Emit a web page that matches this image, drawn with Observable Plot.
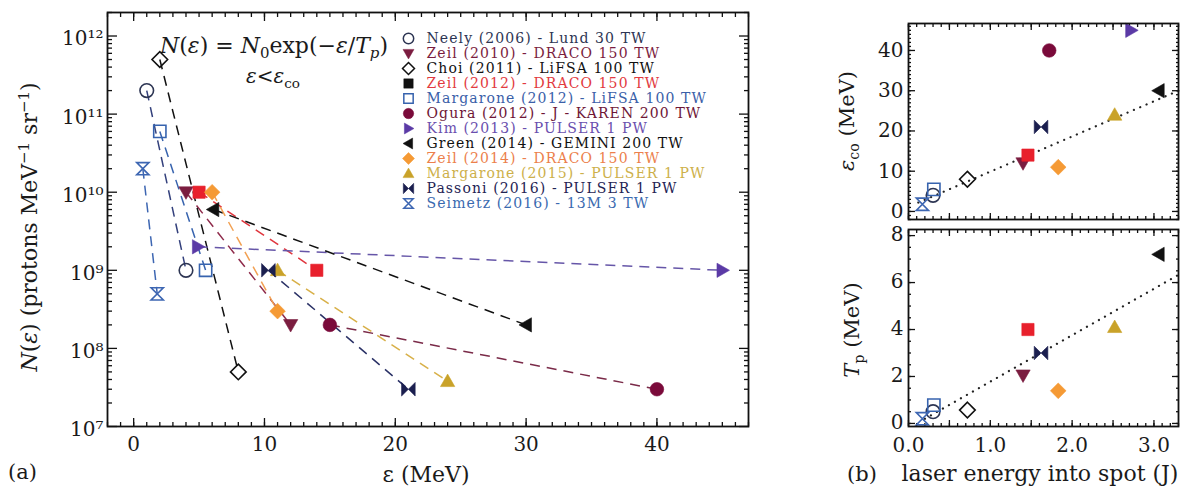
<!DOCTYPE html>
<html>
<head>
<meta charset="utf-8">
<script src="https://cdn.jsdelivr.net/npm/d3@7"></script>
<script src="https://cdn.jsdelivr.net/npm/@observablehq/plot@0.6"></script>
<style>
  body { margin: 0; background: #fff; }
  #fig { position: relative; width: 1180px; height: 488px; overflow: hidden;
         font-family: "DejaVu Serif", serif; color: #1a1a1a; background: #fff; }
  #fig svg { position: absolute; overflow: visible; }
  .t { position: absolute; white-space: nowrap; line-height: 1; }
  .t sub, .t sup { font-size: 0.68em; line-height: 0; }
</style>
</head>
<body>
<div id="fig"></div>
<script>
// ---- data -------------------------------------------------------------
const studies = [
  "Neely (2006) - Lund 30 TW",
  "Zeil (2010) - DRACO 150 TW",
  "Choi (2011) - LiFSA 100 TW",
  "Zeil (2012) - DRACO 150 TW",
  "Margarone (2012) - LiFSA 100 TW",
  "Ogura (2012) - J - KAREN 200 TW",
  "Kim (2013) - PULSER 1 PW",
  "Green (2014) - GEMINI 200 TW",
  "Zeil (2014) - DRACO 150 TW",
  "Margarone (2015) - PULSER 1 PW",
  "Passoni (2016) - PULSER 1 PW",
  "Seimetz (2016) - 13M 3 TW"
];
// first point of each exponential spectrum (MeV, protons MeV^-1 sr^-1)
const epsStart = [1, 4, 2, 5, 2, 15, 4.9, 6.1, 6, 11, 10.3, 0.7];
const nStart   = [2e11, 1e10, 5e11, 1e10, 6e10, 2e8, 2e9, 6e9, 1e10, 1e9, 1e9, 2e10];
// cut-off energy eps_co and the spectrum value there
const epsCutoff = [4, 12, 8, 14, 5.5, 40, 45, 30, 11, 24, 21, 1.8];
const nCutoff   = [1e9, 2e8, 5e7, 1e9, 1e9, 3e7, 1e9, 2e8, 3e8, 3.8e7, 3e7, 5e8];
// laser energy into the focal spot (J) and proton temperature T_p (MeV)
const laserEnergy = [0.3, 1.4, 0.72, 1.46, 0.31, 1.72, 2.72, 3.06, 1.83, 2.52, 1.62, 0.17];
const tempP       = [0.5, 2.05, 0.57, 4.0, 0.78, null, null, 7.2, 1.39, 4.1, 3.0, 0.2];
// linear trends drawn as dotted lines in panel (b)
const trendEnergy = [0.12, 3.3];
const trendCutoff = [2.2, 30];
const trendTempEnergy = [0.2, 3.3];
const trendTemp = [0.2, 6.33];
// axis ticks
const xTicksA = [0, 10, 20, 30, 40];
const yDecadesA = [7, 8, 9, 10, 11, 12];
const xTicksB = [0, 1, 2, 3];
const yTicksCutoff = [0, 10, 20, 30, 40];
const yTicksTemp = [0, 2, 4, 6, 8];

// ---- marker styles ----------------------------------------------------
const shapes  = ["circle","triDown","diamond","square","square","circle","triRight","triLeft","diamond","triUp","bowtie","hourglass"];
const filled  = [false, true, false, true, false, true, true, true, true, true, true, false];
const markCol = ["#2d3553","#7b1d40","#111111","#e8202c","#3763ae","#7a0a3a","#5b3aa6","#111111","#f59a35","#c9a229","#1b1f4f","#3d66b2"];
const lineCol = ["#33407c","#8e2a4a","#111111","#e0353d","#3763ae","#7a2a48","#6656a8","#111111","#f2a052","#d8b048","#2a3166","#3d66b2"];
const textCol = ["#2d3553","#7b1d40","#111111","#e23a40","#3a60a8","#6e1636","#6a4fae","#111111","#ec7f4c","#cdb04a","#1f2454","#3a6ab0"];
const legendCol = markCol.map((c, i) => i === 3 ? "#111111" : c);

const half = s => Math.sqrt(s / Math.PI);
const SYM = {
  circle: d3.symbolCircle,
  square: { draw(c, s) { const r = half(s) * 0.9; c.rect(-r, -r, 2 * r, 2 * r); } },
  diamond: { draw(c, s) { const r = half(s) * 1.15; c.moveTo(0, -r); c.lineTo(r, 0); c.lineTo(0, r); c.lineTo(-r, 0); c.closePath(); } },
  triDown: { draw(c, s) { const r = half(s) * 1.05; c.moveTo(-r, -0.75 * r); c.lineTo(r, -0.75 * r); c.lineTo(0, r); c.closePath(); } },
  triUp: { draw(c, s) { const r = half(s) * 1.05; c.moveTo(-r, 0.75 * r); c.lineTo(r, 0.75 * r); c.lineTo(0, -r); c.closePath(); } },
  triRight: { draw(c, s) { const r = half(s) * 1.05; c.moveTo(-0.75 * r, -r); c.lineTo(-0.75 * r, r); c.lineTo(r, 0); c.closePath(); } },
  triLeft: { draw(c, s) { const r = half(s) * 1.05; c.moveTo(0.75 * r, -r); c.lineTo(0.75 * r, r); c.lineTo(-r, 0); c.closePath(); } },
  bowtie: { draw(c, s) { const r = half(s); c.moveTo(-r, -r); c.lineTo(0, 0); c.lineTo(-r, r); c.closePath(); c.moveTo(r, -r); c.lineTo(0, 0); c.lineTo(r, r); c.closePath(); } },
  hourglass: { draw(c, s) { const r = half(s) * 0.9; c.moveTo(-r, -r); c.lineTo(r, -r); c.lineTo(-r, r); c.lineTo(r, r); c.closePath(); } }
};

const rows = studies.map((name, i) => ({
  name, i,
  e0: epsStart[i], n0: nStart[i], eco: epsCutoff[i], nco: nCutoff[i],
  E: laserEnergy[i], tp: tempP[i]
}));

function markerFor(i, data, x, y, r) {
  return Plot.dot(data, {
    x, y, r,
    symbol: SYM[shapes[i]],
    fill: filled[i] ? markCol[i] : "none",
    stroke: markCol[i],
    strokeWidth: filled[i] ? 0.6 : 1.6
  });
}

// inward frame ticks on the given sides (unlabelled)
function frameTicks(axis, values, size, anchors) {
  const f = axis === "x" ? Plot.axisX : Plot.axisY;
  return anchors.map(anchor => f(values, {
    anchor, tickSize: -size, tickFormat: () => "", label: null, strokeWidth: 1.3, stroke: "#111"
  }));
}

const sup = n => String(n).split("").map(c => "⁰¹²³⁴⁵⁶⁷⁸⁹"["0123456789".indexOf(c)]).join("");
const FONT = "DejaVu Serif";
const fig = document.getElementById("fig");
function place(node, left, top) { node.style.left = left + "px"; node.style.top = top + "px"; fig.appendChild(node); }
function label(html, x, y, size, opts = {}) {
  const el = document.createElement("div");
  el.className = "t";
  el.innerHTML = html;
  const tx = opts.anchor === "start" ? "0" : "-50%";
  el.style.cssText += `left:${x}px;top:${y}px;font-size:${size}px;transform:translate(${tx},-50%)${opts.rotate ? " rotate(-90deg)" : ""};`;
  if (opts.color) el.style.color = opts.color;
  fig.appendChild(el);
}

// ---- panel (a): spectra ----------------------------------------------
const logMinor = yDecadesA.flatMap(p => d3.range(2, 10).map(k => k * 10 ** p)).filter(v => v <= 2e12);
const logMajor = yDecadesA.map(p => 10 ** p);

const panelA = Plot.plot({
  width: 760, height: 488,
  marginLeft: 107, marginRight: 12, marginTop: 12, marginBottom: 62,
  style: { fontFamily: FONT, fontSize: "20px", background: "transparent", color: "#1a1a1a" },
  x: { domain: [-2, 47] },
  y: { type: "log", domain: [1e7, 2e12] },
  marks: [
    ...frameTicks("x", d3.range(-2, 48), 4, ["bottom", "top"]),
    ...frameTicks("x", xTicksA, 8, ["bottom", "top"]),
    ...frameTicks("y", logMinor, 5, ["left", "right"]),
    ...frameTicks("y", logMajor, 10, ["left", "right"]),
    Plot.axisX(xTicksA, { anchor: "bottom", tickSize: 0, tickPadding: 10, label: null }),
    Plot.axisY(logMajor, { anchor: "left", tickSize: 0, tickPadding: 4, label: null, dy: 3,
      tickFormat: d => "10" + sup(Math.round(Math.log10(d))) }),
    Plot.link(rows, {
      x1: "e0", y1: "n0", x2: "eco", y2: "nco",
      stroke: d => lineCol[d.i], strokeWidth: 1.5, strokeDasharray: "10,7"
    }),
    ...rows.map(d => markerFor(d.i, [{ x: d.e0, y: d.n0 }, { x: d.eco, y: d.nco }], "x", "y", 6.8)),
    Plot.frame({ stroke: "#111", strokeWidth: 1.8 })
  ]
});
place(panelA, 0, 0);

// legend inside panel (a)
const legend = Plot.plot({
  width: 350, height: 220, margin: 0,
  style: { fontFamily: FONT, fontSize: "14px", letterSpacing: "1.1px", background: "transparent" },
  x: { domain: [0, 1], range: [23, 300], axis: null },
  y: { type: "point", domain: studies, range: [15, 206.5], axis: null },
  marks: [
    ...rows.map(d => Plot.dot([d], {
      x: () => 0, y: "name", r: 5.2,
      symbol: SYM[shapes[d.i]],
      fill: filled[d.i] ? legendCol[d.i] : "none",
      stroke: legendCol[d.i], strokeWidth: filled[d.i] ? 0.5 : 1.5
    })),
    Plot.text(rows, { x: () => 0, y: "name", text: "name", dx: 18, textAnchor: "start",
      fill: d => textCol[d.i] })
  ]
});
place(legend, 385, 10);

// ---- panel (b): cut-off energy and temperature vs laser energy --------
const topB = Plot.plot({
  width: 400, height: 230,
  marginLeft: 128, marginRight: 2, marginTop: 23, marginBottom: 11,
  style: { fontFamily: FONT, fontSize: "20px", background: "transparent", color: "#1a1a1a" },
  x: { domain: [0, 3.3] },
  y: { domain: [-2, 46.7] },
  marks: [
    ...frameTicks("x", d3.range(0, 3.31, 0.1), 3, ["bottom", "top"]),
    ...frameTicks("x", d3.range(0, 3.31, 0.5), 6, ["bottom", "top"]),
    ...frameTicks("y", d3.range(-2, 47, 1), 3, ["left", "right"]),
    ...frameTicks("y", yTicksCutoff, 7, ["left", "right"]),
    Plot.axisY(yTicksCutoff, { anchor: "left", tickSize: 0, tickPadding: 5, label: null }),
    Plot.line(trendEnergy.map((e, k) => ({ e, v: trendCutoff[k] })), {
      x: "e", y: "v", stroke: "#222", strokeWidth: 2.2, strokeDasharray: "0.1,6.8", strokeLinecap: "round"
    }),
    ...rows.map(d => markerFor(d.i, [d], "E", "eco", 6.8)),
    Plot.frame({ stroke: "#111", strokeWidth: 1.8 })
  ]
});
place(topB, 780, 0);

const bottomB = Plot.plot({
  width: 400, height: 268,
  marginLeft: 128, marginRight: 2, marginTop: 9, marginBottom: 62,
  style: { fontFamily: FONT, fontSize: "20px", background: "transparent", color: "#1a1a1a" },
  x: { domain: [0, 3.3] },
  y: { domain: [-0.13, 8.26] },
  marks: [
    ...frameTicks("x", d3.range(0, 3.31, 0.1), 3, ["bottom", "top"]),
    ...frameTicks("x", d3.range(0, 3.31, 0.5), 6, ["bottom", "top"]),
    ...frameTicks("y", d3.range(0, 8.3, 0.5), 3, ["left", "right"]),
    ...frameTicks("y", yTicksTemp, 7, ["left", "right"]),
    Plot.axisX(xTicksB, { anchor: "bottom", tickSize: 0, tickPadding: 11, label: null, tickFormat: d3.format(".1f") }),
    Plot.axisY(yTicksTemp, { anchor: "left", tickSize: 0, tickPadding: 5, label: null, dy: -1 }),
    Plot.line(trendTempEnergy.map((e, k) => ({ e, v: trendTemp[k] })), {
      x: "e", y: "v", stroke: "#222", strokeWidth: 2.2, strokeDasharray: "0.1,6.8", strokeLinecap: "round"
    }),
    ...rows.filter(d => d.tp != null).map(d => markerFor(d.i, [d], "E", "tp", 6.8)),
    Plot.frame({ stroke: "#111", strokeWidth: 1.8 })
  ]
});
place(bottomB, 780, 220);

// ---- titles and annotations -------------------------------------------
label("<i>N</i>(<i>ε</i>) = <i>N</i><sub>0</sub>exp(−<i>ε</i>/<i>T<sub>p</sub></i>)", 274, 46, 22);
label("<i>ε</i>&lt;<i>ε</i><sub>co</sub>", 273, 76, 20);
label("<i>N</i>(<i>ε</i>) (protons MeV<sup>−1</sup> sr<sup>−1</sup>)", 30, 227, 22, { rotate: true });
label("ε (MeV)", 426, 475, 22);
label("(a)", 8, 472, 21, { anchor: "start" });
label("(b)", 847, 474, 21, { anchor: "start" });
label("laser energy into spot (J)", 1040, 474, 22);
label("<i>ε</i><sub>co</sub> (MeV)", 847, 121, 21, { rotate: true });
label("<i>T</i><sub>p</sub> (MeV)", 852, 330, 21, { rotate: true });
</script>
</body>
</html>
